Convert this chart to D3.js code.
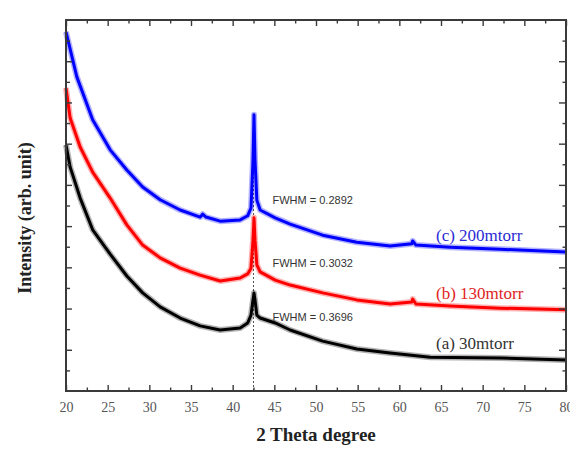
<!DOCTYPE html>
<html lang="en">
<head>
    <meta charset="utf-8">
    <title>XRD</title>
    <script src="https://cdnjs.cloudflare.com/ajax/libs/d3/7.8.5/d3.min.js"></script>
    <style>
        html, body { margin: 0; padding: 0; background: #fff; overflow: hidden; }
        svg { display: block; }
        .frame line { stroke: #3a3a3a; }
        .tick text { font-family: "Liberation Serif", "Times New Roman", serif; font-size: 14px; fill: #555; }
    </style>
</head>
<body>
<svg class="chart"></svg>
<script>
    // 2 theta (deg)
    var theta = [20, 21.3, 23.2, 25.3, 27.3, 29.2, 31.3, 33.7, 36.1, 36.4, 36.8, 38.5, 40.9, 41.8, 42.2, 42.44, 42.56, 42.68, 42.9, 43.3, 45.1, 46.9, 50.8, 54.9, 58.9, 61.5, 61.6, 62.0, 66.1, 72.1, 80];
    var thetaRed = [20, 20.5, 21.7, 23.2, 25.3, 27.3, 29.2, 31.3, 33.7, 36.1, 38.5, 40.9, 41.8, 42.2, 42.44, 42.56, 42.68, 42.9, 43.3, 45.1, 46.9, 50.8, 54.9, 58.9, 61.5, 61.6, 62.0, 66.1, 72.1, 80];
    var thetaBlack = [20, 20.5, 21.7, 23.2, 25.3, 27.3, 29.2, 31.3, 33.7, 36.1, 38.5, 40.9, 41.8, 42.2, 42.44, 42.56, 42.68, 42.9, 43.3, 45.1, 46.9, 50.8, 54.9, 58.9, 63.7, 72.1, 80];

    // intensity, arbitrary units (offset curves)
    var i200 = [8.71, 7.62, 6.58, 5.85, 5.36, 4.95, 4.64, 4.39, 4.22, 4.29, 4.22, 4.12, 4.15, 4.25, 4.44, 5.60, 6.70, 5.60, 4.63, 4.39, 4.20, 4.05, 3.78, 3.61, 3.52, 3.57, 3.64, 3.54, 3.49, 3.44, 3.37];
    var i130 = [7.35, 6.62, 5.92, 5.31, 4.68, 4.03, 3.54, 3.23, 2.98, 2.81, 2.67, 2.74, 2.84, 2.98, 3.66, 4.20, 3.66, 3.06, 2.89, 2.69, 2.57, 2.38, 2.21, 2.11, 2.16, 2.23, 2.11, 2.06, 2.01, 1.97];
    var i30 = [5.97, 5.43, 4.68, 3.91, 3.32, 2.79, 2.38, 2.04, 1.77, 1.58, 1.48, 1.53, 1.65, 1.84, 2.21, 2.38, 2.21, 1.84, 1.77, 1.65, 1.48, 1.21, 1.02, 0.92, 0.82, 0.80, 0.75];

    var seriesNames = ["(c) 200mtorr", "(b) 130mtorr", "(a) 30mtorr"];
    var fwhm = ["FWHM = 0.2892", "FWHM = 0.3032", "FWHM = 0.3696"];
    var xTicks = [20, 25, 30, 35, 40, 45, 50, 55, 60, 65, 70, 75, 80];
    var peakPos = 42.5;

    var width = 570, height = 452;
    var margin = {top: 20, right: 4, bottom: 61, left: 66};

    var x = d3.scaleLinear().domain([20, 80]).range([margin.left, width - margin.right]);
    var y = d3.scaleLinear().domain([0, 9]).range([height - margin.bottom, margin.top]);

    var svg = d3.select(".chart")
        .attr("width", width)
        .attr("height", height);

    var minorX = d3.range(22.5, 80, 5);
    var majorY = d3.range(1, 9, 1);
    var minorY = d3.range(0.5, 9, 1);
    var h = height - margin.bottom, w = width - margin.right;

    // dotted marker at the peak
    svg.append("line")
        .attr("x1", x(peakPos)).attr("x2", x(peakPos))
        .attr("y1", y(0)).attr("y2", y(6.7))
        .attr("stroke", "#555")
        .attr("stroke-width", 1)
        .attr("stroke-dasharray", "2,2");

    var line = d3.line()
        .x(function(d) { return x(d[0]); })
        .y(function(d) { return y(d[1]); });

    var curves = [
        {xs: thetaBlack, ys: i30, color: "#000000"},
        {xs: thetaRed, ys: i130, color: "#ff0000"},
        {xs: theta, ys: i200, color: "#0000ff"}
    ];

    // soft halo under each trace stands in for the measurement noise band
    curves.forEach(function(c) {
        var pts = c.xs.map(function(t, i) { return [t, c.ys[i]]; });
        svg.append("path")
            .datum(pts)
            .attr("fill", "none")
            .attr("stroke", c.color)
            .attr("stroke-opacity", 0.3)
            .attr("stroke-width", 6)
            .attr("stroke-linejoin", "round")
            .attr("d", line);
        svg.append("path")
            .datum(pts)
            .attr("fill", "none")
            .attr("stroke", c.color)
            .attr("stroke-width", 3)
            .attr("stroke-linejoin", "round")
            .attr("d", line);
    });

    // frame + ticks (all pointing inward)
    svg.append("rect")
        .attr("x", margin.left).attr("y", margin.top)
        .attr("width", w - margin.left).attr("height", h - margin.top)
        .attr("fill", "none")
        .attr("stroke", "#3a3a3a")
        .attr("stroke-width", 2);

    function frame(axis, tr) {
        var g = svg.append("g").attr("class", "frame").attr("transform", tr).call(axis.tickSizeOuter(0));
        g.select(".domain").remove();
        g.selectAll("line").attr("stroke-width", 1.4);
        return g;
    }
    frame(d3.axisBottom(x).tickValues(xTicks).tickSize(-6).tickPadding(11).tickFormat(d3.format("d")), "translate(0," + h + ")");
    frame(d3.axisBottom(x).tickValues(minorX).tickSize(-3.5).tickFormat(""), "translate(0," + h + ")");
    frame(d3.axisTop(x).tickValues(xTicks).tickSize(-6).tickFormat(""), "translate(0," + margin.top + ")");
    frame(d3.axisTop(x).tickValues(minorX).tickSize(-3.5).tickFormat(""), "translate(0," + margin.top + ")");
    frame(d3.axisLeft(y).tickValues(majorY).tickSize(-6).tickFormat(""), "translate(" + margin.left + ",0)");
    frame(d3.axisLeft(y).tickValues(minorY).tickSize(-4).tickFormat(""), "translate(" + margin.left + ",0)");
    frame(d3.axisRight(y).tickValues(majorY).tickSize(-7).tickFormat(""), "translate(" + w + ",0)");
    frame(d3.axisRight(y).tickValues(minorY).tickSize(-3.5).tickFormat(""), "translate(" + w + ",0)");

    // FWHM notes
    var fwhmBase = [204, 267, 321];
    fwhm.forEach(function(t, i) {
        svg.append("text")
            .attr("x", x(peakPos) + 19)
            .attr("y", fwhmBase[i])
            .attr("font-family", "Liberation Sans, Arial, sans-serif")
            .attr("font-size", 11)
            .attr("fill", "#333")
            .text(t);
    });

    // series labels
    var labelColors = ["#2b2bd6", "#e02424", "#333333"];
    var labelY = [241, 299, 349];
    seriesNames.forEach(function(t, i) {
        svg.append("text")
            .attr("x", 436)
            .attr("y", labelY[i])
            .attr("font-family", "Liberation Serif, Times New Roman, serif")
            .attr("font-size", 17)
            .attr("fill", labelColors[i])
            .text(t);
    });

    svg.append("text")
        .attr("x", (x(20) + x(80)) / 2)
        .attr("y", 441)
        .attr("text-anchor", "middle")
        .attr("font-family", "Liberation Serif, Times New Roman, serif")
        .attr("font-weight", "bold")
        .attr("font-size", 19)
        .attr("fill", "#222")
        .text("2 Theta degree");

    svg.append("text")
        .attr("transform", "translate(31,218) rotate(-90)")
        .attr("text-anchor", "middle")
        .attr("font-family", "Liberation Serif, Times New Roman, serif")
        .attr("font-weight", "bold")
        .attr("font-size", 18)
        .attr("fill", "#222")
        .text("Intensity (arb. unit)");
</script>
</body>
</html>
